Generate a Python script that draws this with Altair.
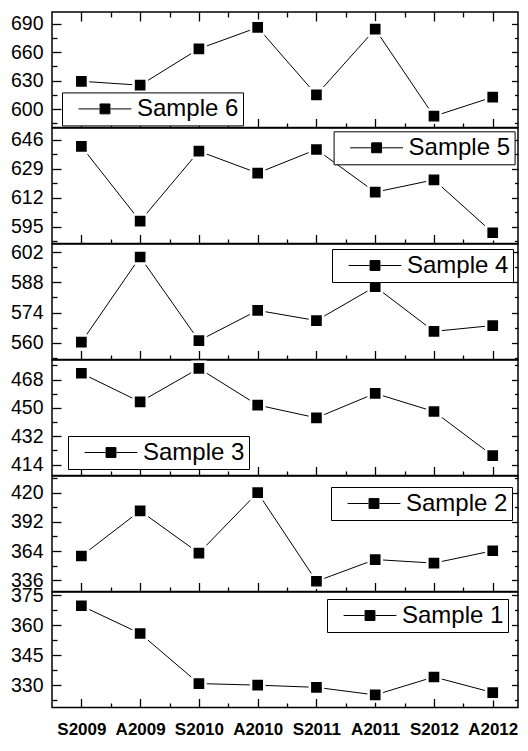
import json
import altair as alt
import pandas as pd

categories = ["S2009", "A2009", "S2010", "A2010", "S2011", "A2011", "S2012", "A2012"]
positions = [1, 2, 3, 4, 5, 6, 7, 8]

sample6 = [629.3, 625.2, 663.5, 686.0, 615.0, 684.2, 592.5, 612.6]
sample5 = [642.0, 598.2, 639.2, 626.4, 640.2, 615.2, 622.4, 591.4]
sample4 = [560.3, 599.7, 561.0, 575.0, 570.3, 586.0, 565.3, 568.0]
sample3 = [472.0, 453.8, 475.1, 451.8, 443.7, 459.2, 447.7, 419.7]
sample2 = [359.3, 402.5, 362.1, 420.0, 335.1, 355.9, 352.5, 364.3]
sample1 = [369.8, 355.9, 330.8, 330.0, 328.9, 325.1, 334.1, 326.3]

domain6 = [580.6, 702.3]
domain5 = [585.1, 652.8]
domain4 = [552.3, 605.7]
domain3 = [407.1, 480.4]
domain2 = [325.3, 435.9]
domain1 = [318.8, 376.7]

major6 = [600, 630, 660, 690]
minor6 = [585, 615, 645, 675]
major5 = [595, 612, 629, 646]
minor5 = [586.5, 603.5, 620.5, 637.5]
major4 = [560, 574, 588, 602]
minor4 = [553, 567, 581, 595]
major3 = [414, 432, 450, 468]
minor3 = [423, 441, 459, 477]
major2 = [336, 364, 392, 420]
minor2 = [350, 378, 406, 434]
major1 = [330, 345, 360, 375]
minor1 = [322.5, 337.5, 352.5, 367.5]

x_ticks = [1, 1.5, 2, 2.5, 3, 3.5, 4, 4.5, 5, 5.5, 6, 6.5, 7, 7.5, 8]

FONT = "Liberation Sans"
W, H = 466, 115.5
DW = 476 - W

legend_path = "M-4.8,0H-1M1,0H4.8M-0.9,-0.9H0.9V0.9H-0.9Z"

cat_expr = json.dumps(categories)
x_major_test = "datum.value % 1 === 0"


def panel(name, values, domain, majors, minors, lx, ly, top=False, bottom=False):
    df = pd.DataFrame({"pos": positions, "cat": categories, "value": values,
                       "series": [name] * len(values)})
    yvals = sorted(majors + minors)
    ytest = "indexof(" + json.dumps(majors) + ", datum.value) >= 0"
    xscale = alt.Scale(domain=[0.5, 8.43], nice=False, zero=False)
    yscale = alt.Scale(domain=domain, nice=False, zero=False)

    bottom_axis = alt.Axis(
        orient="bottom", values=x_ticks, title=None, grid=False, domain=False,
        labels=bottom, minExtent=0, offset=0,
        labelExpr=x_major_test + " ? " + cat_expr + "[datum.value - 1] : ''",
        labelFont=FONT, labelFontSize=17, labelFontWeight="bold", labelColor="black",
        labelPadding=23, labelOverlap=False, labelFlush=False,
        tickColor="black", tickWidth=1.3,
        tickSize={"condition": {"test": x_major_test, "value": -9}, "value": -4.5},
    )
    left_axis = alt.Axis(
        orient="left", values=yvals, title=None, grid=False, domain=False,
        minExtent=0, offset=0,
        labelExpr=ytest + " ? datum.label : ''",
        labelFont=FONT, labelFontSize=19.5, labelColor="black",
        labelPadding=18, labelOverlap=False, labelFlush=False,
        tickColor="black", tickWidth=1.3,
        tickSize={"condition": {"test": ytest, "value": -9}, "value": -5},
    )
    right_axis = alt.Axis(
        orient="right", values=yvals, title=None, grid=False, domain=False,
        labels=False, minExtent=0, offset=0,
        tickColor="black", tickWidth=1.3,
        tickSize={"condition": {"test": ytest, "value": -6.5}, "value": -3.5},
    )
    if top:
        top_axis = alt.Axis(
            orient="top", values=x_ticks, title=None, grid=False, domain=False,
            labels=False, minExtent=0, offset=0,
            tickColor="black", tickWidth=1.3,
            tickSize={"condition": {"test": x_major_test, "value": -9}, "value": -5},
        )
    else:
        top_axis = None

    base = alt.Chart(df)
    line = base.mark_line(color="black", strokeWidth=1).encode(
        x=alt.X("pos:Q", scale=xscale, axis=bottom_axis),
        y=alt.Y("value:Q", scale=yscale, axis=left_axis),
        color=alt.Color(
            "series:N",
            scale=alt.Scale(domain=[name], range=["black"]),
            legend=alt.Legend(
                title=None, orient="none", legendX=lx, legendY=ly,
                strokeColor="black", fillColor="white", padding=4.5, cornerRadius=0,
                labelFont=FONT, labelFontSize=24, labelColor="black",
                symbolType=legend_path, symbolSize=121, symbolStrokeWidth=1,
                symbolFillColor="black", symbolStrokeColor="black",
                symbolOffset=26.5, labelOffset=20,
            ),
        ),
    )
    pts = base.mark_point(shape="square", filled=True, fill="black", stroke="white",
                          strokeWidth=2.5, size=174, opacity=1).encode(
        x=alt.X("pos:Q", scale=xscale, axis=top_axis),
        y=alt.Y("value:Q", scale=yscale, axis=right_axis),
    )
    return alt.layer(line, pts).resolve_axis(x="independent", y="independent").properties(
        width=W, height=H)


panels = [
    panel("Sample 6", sample6, domain6, major6, minor6, 10, 80.4, top=True),
    panel("Sample 5", sample5, domain5, major5, minor5, 291.6 - DW, 3.3),
    panel("Sample 4", sample4, domain4, major4, minor4, 290 - DW, 5),
    panel("Sample 3", sample3, domain3, major3, minor3, 16, 76),
    panel("Sample 2", sample2, domain2, major2, minor2, 289 - DW, 11),
    panel("Sample 1", sample1, domain1, major1, minor1, 285 - DW, 7, bottom=True),
]

chart = alt.vconcat(*panels, spacing=0, bounds="flush").resolve_scale(
    color="independent"
).configure_view(stroke="black", strokeWidth=1.5).properties(
    padding={"left": 1, "top": 2, "right": 0, "bottom": 0},
    background="white",
)

chart.save("out.html", embed_options={"renderer": "svg", "actions": False})
